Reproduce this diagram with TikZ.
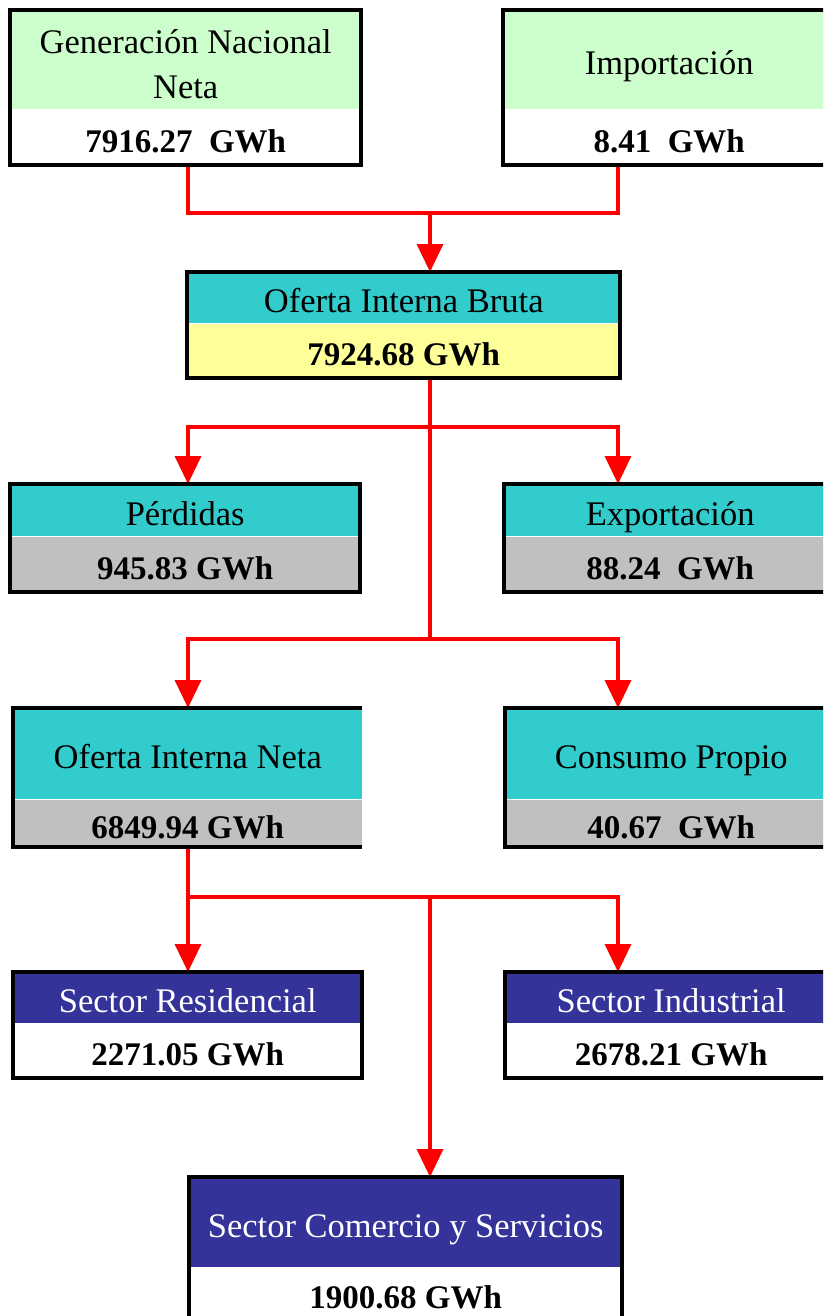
\documentclass[tikz,border=0pt]{standalone}
\usepackage{fontspec}
\setmainfont{Liberation Serif}
\usetikzlibrary{arrows.meta}
\definecolor{mint}{HTML}{CCFFCC}
\definecolor{cyanbox}{HTML}{33CCCC}
\definecolor{lemon}{HTML}{FFFF99}
\definecolor{greybox}{HTML}{C0C0C0}
\definecolor{navybox}{HTML}{333399}

\begin{document}
\begin{tikzpicture}[x=1pt,y=-1pt,
    hdr/.style={anchor=north west,inner sep=0pt,text height=30pt,text depth=0pt,
      font=\fontsize{34.5}{45}\selectfont},
    amount/.style={anchor=north west,inner sep=0pt,text height=30pt,text depth=0pt,
      font=\fontsize{33}{40}\selectfont\bfseries},
    boxframe/.style={draw=black,line width=4pt},
    flow/.style={draw=red,line width=3.5pt},
    flowarrow/.style={flow,-{Triangle[width=26pt,length=28pt]}}]
    \path[use as bounding box,clip] (0,0) rectangle (823,1316);

    % columns of the connectors
    \coordinate (colL) at (188,0);
    \coordinate (colM) at (430,0);
    \coordinate (colR) at (618,0);
    \coordinate (split1) at (430,213);
    \coordinate (split2) at (430,427);
    \coordinate (split3) at (430,639);
    \coordinate (split4) at (430,897);

    \node[hdr,fill=mint,minimum width=351,minimum height=99,align=center,
      text height=78pt] (gen) at (10,10) {Generación Nacional\\Neta};
    \node[amount,fill=white,minimum width=351,minimum height=55] (genv) at (gen.south west) {7916.27\ \ GWh};
    \node[hdr,fill=mint,minimum width=332,minimum height=99] (imp) at (503,10) {Importación};
    \node[amount,fill=white,minimum width=332,minimum height=55] (impv) at (imp.south west) {8.41\ \ GWh};

    \node[hdr,fill=cyanbox,minimum width=433,minimum height=51] (oib) at (187,272) {Oferta Interna Bruta};
    \node[amount,fill=lemon,minimum width=433,minimum height=54] (oibv) at (oib.south west) {7924.68 GWh};

    \node[hdr,fill=cyanbox,minimum width=350,minimum height=52] (per) at (10,484) {Pérdidas};
    \node[amount,fill=greybox,minimum width=350,minimum height=55] (perv) at (per.south west) {945.83 GWh};
    \node[hdr,fill=cyanbox,minimum width=332,minimum height=52] (exp) at (504,484) {Exportación};
    \node[amount,fill=greybox,minimum width=332,minimum height=55] (expv) at (exp.south west) {88.24\ \ GWh};

    \node[hdr,fill=cyanbox,minimum width=349,minimum height=91] (oin) at (13,708) {Oferta Interna Neta};
    \node[amount,fill=greybox,minimum width=349,minimum height=47] (oinv) at (oin.south west) {6849.94 GWh};
    \node[hdr,fill=cyanbox,minimum width=332,minimum height=91] (cp) at (505,708) {Consumo Propio};
    \node[amount,fill=greybox,minimum width=332,minimum height=47] (cpv) at (cp.south west) {40.67\ \ GWh};

    \node[hdr,fill=navybox,text=white,minimum width=349,minimum height=51] (res) at (13,972) {Sector Residencial};
    \node[amount,fill=white,minimum width=349,minimum height=54] (resv) at (res.south west) {2271.05 GWh};
    \node[hdr,fill=navybox,text=white,minimum width=332,minimum height=51] (ind) at (505,972) {Sector Industrial};
    \node[amount,fill=white,minimum width=332,minimum height=54] (indv) at (ind.south west) {2678.21 GWh};

    \node[hdr,fill=navybox,text=white,minimum width=433,minimum height=90] (com) at (189,1177) {Sector Comercio y Servicios};
    \node[amount,fill=white,minimum width=433,minimum height=52] (comv) at (com.south west) {1900.68 GWh};

    \draw[flow] (genv.south -| colL) |- (split1) -| (impv.south -| colR);
    \draw[flowarrow] (split1) -- (oib.north -| colM);
    \draw[flow] (oibv.south -| colM) -- (split3);
    \draw[flowarrow] (split2) -| (per.north -| colL);
    \draw[flowarrow] (split2) -| (exp.north -| colR);
    \draw[flowarrow] (split3) -| (oin.north -| colL);
    \draw[flowarrow] (split3) -| (cp.north -| colR);
    \draw[flowarrow] (oinv.south -| colL) -- (res.north -| colL);
    \draw[flowarrow] (split4 -| colL) -| (ind.north -| colR);
    \draw[flowarrow] (split4) -- (com.north -| colM);

    \draw[boxframe] (gen.north west) rectangle (genv.south east);
    \draw[boxframe] (imp.north west) rectangle (impv.south east);
    \draw[boxframe] (oib.north west) rectangle (oibv.south east);
    \draw[boxframe] (per.north west) rectangle (perv.south east);
    \draw[boxframe] (exp.north west) rectangle (expv.south east);
    \draw[boxframe] (oin.north east) -- (oin.north west) -- (oinv.south west) -- (oinv.south east);
    \draw[boxframe] (cp.north west) rectangle (cpv.south east);
    \draw[boxframe] (res.north west) rectangle (resv.south east);
    \draw[boxframe] (ind.north west) rectangle (indv.south east);
    \draw[boxframe] (com.north west) rectangle (comv.south east);
\end{tikzpicture}
\end{document}
